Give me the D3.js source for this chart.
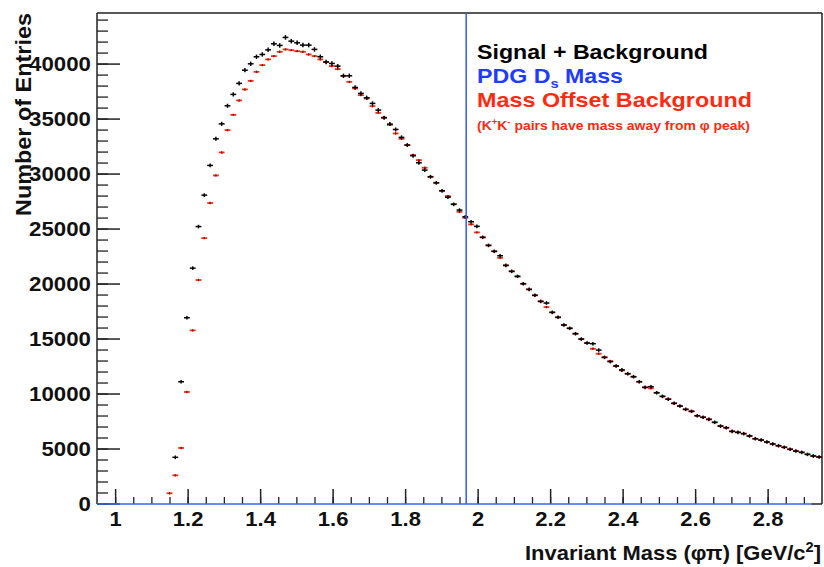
<!DOCTYPE html>
<html>
<head>
<meta charset="utf-8">
<script src="https://cdn.jsdelivr.net/npm/d3@7/dist/d3.min.js"></script>
<style>
  html, body { margin: 0; padding: 0; background: #fff; }
  svg { display: block; font-family: "Liberation Sans", Arial, Helvetica, sans-serif; }
</style>
</head>
<body>
<svg id="chart" width="824" height="567"></svg>
<script>
// ---- histogram definition (bins of 0.016 GeV starting at 1.142) ----
const binStart = 1.142;
const binWidth = 0.016;

// ---- Signal + Background (black), first bin centred at 1.150 ----
const signalBkg = [
  null, 4200, 11070, 16890, 21400, 25180, 28040, 30740, 33160, 34520,
  36160, 37200, 38200, 39400, 39980, 40620, 40830, 41250, 41800, 41650,
  42380, 42040, 41890, 41680, 41680, 41290, 40620, 40150, 40010, 39770,
  38890, 38890, 37830, 37290, 36890, 36380, 35770, 35070, 34500, 34010,
  33290, 32590, 31620, 30980, 30320, 29710, 29160, 28430, 27850, 27200,
  26680, 26070, 25620, 25200, 24200, 23470, 22930, 22530, 21650, 21110,
  20650, 19980, 19470, 18930, 18380, 18230, 17380, 16930, 16230, 15930,
  15440, 14950, 14590, 14530, 13950, 13290, 12900, 12500, 12150, 11800,
  11530, 11070, 10560, 10620, 10070, 9740, 9480, 9110, 8860, 8560,
  8380, 7980, 7840, 7650, 7380, 7040, 6890, 6560, 6470, 6350,
  6140, 5890, 5770, 5590, 5410, 5250, 5110, 4930, 4770, 4650,
  4470, 4320, 4230
];

// ---- Mass Offset Background (red) ----
const offsetBkg = [
  930, 2560, 5050, 10140, 15740, 20320, 24130, 27320, 29830, 31920,
  33950, 35340, 36650, 37650, 38430, 39250, 39860, 40380, 40680, 41070,
  41290, 41220, 41130, 41070, 40830, 40680, 40380, 40130, 39770, 39500,
  38860, 38340, 37740, 37130, 36830, 36130, 35520, 35100, 34430, 33650,
  33160, 32590, 31680, 31220, 30530, 29710, 29160, 28430, 27950, 27220,
  26520, 25980, 25380, 24650, 24200, 23470, 22930, 22340, 21650, 21110,
  20650, 19980, 19470, 18930, 18380, 17860, 17380, 16930, 16230, 15930,
  15440, 14950, 14590, 14070, 13620, 13290, 12950, 12500, 12100, 11800,
  11530, 11070, 10560, 10470, 10070, 9740, 9500, 9110, 8860, 8560,
  8380, 7980, 7840, 7650, 7380, 7040, 6890, 6560, 6470, 6350,
  6140, 5890, 5770, 5590, 5410, 5250, 5110, 4930, 4770, 4650,
  4470, 4320, 4230
];

const pdgDsMass = 1.9685;
const xDomain = [0.95, 2.95];
const yDomain = [0, 44600];
const xTickValues = [1, 1.2, 1.4, 1.6, 1.8, 2, 2.2, 2.4, 2.6, 2.8];
const yTickValues = [0, 5000, 10000, 15000, 20000, 25000, 30000, 35000, 40000];

(function draw() {
  const pL = 97, pR = 822, pT = 13, pB = 504;
  const svg = d3.select("#chart");

  const x = d3.scaleLinear().domain(xDomain).range([pL, pR]);
  const y = d3.scaleLinear().domain(yDomain).range([503.5, pT]);
  const axisFont = "Liberation Sans, Arial, sans-serif";

  function stretch(sel, factor) {
    sel.each(function () {
      const len = this.getComputedTextLength();
      this.setAttribute("textLength", (len * factor).toFixed(1));
      this.setAttribute("lengthAdjust", "spacingAndGlyphs");
    });
  }
  function fitWidth(sel, width) {
    sel.attr("textLength", width).attr("lengthAdjust", "spacingAndGlyphs");
  }

  // frame (top & right)
  svg.append("line").attr("x1", pL).attr("x2", pR).attr("y1", pT).attr("y2", pT)
    .attr("stroke", "#222").attr("stroke-width", 1.5);
  svg.append("line").attr("x1", pR).attr("x2", pR).attr("y1", pT).attr("y2", pB)
    .attr("stroke", "#222").attr("stroke-width", 1.5);

  // Y axis: minor ticks
  const yMinor = d3.range(0, 44001, 1000);
  const gyMinor = svg.append("g").attr("transform", `translate(${pL},0)`)
    .call(d3.axisLeft(y).tickValues(yMinor).tickSize(-11).tickFormat(""));
  gyMinor.select(".domain").remove();
  gyMinor.selectAll("line").attr("stroke", "#222").attr("stroke-width", 1.3);

  // Y axis: major ticks
  const gy = svg.append("g").attr("transform", `translate(${pL},0)`)
    .call(d3.axisLeft(y).tickValues(yTickValues).tickSizeInner(-23).tickSizeOuter(0)
      .tickPadding(6).tickFormat(d3.format("d")));
  gy.select(".domain").attr("stroke", "#222").attr("stroke-width", 1.5)
    .attr("d", `M0,${pB}V${pT}`);
  gy.selectAll("line").attr("stroke", "#222").attr("stroke-width", 1.5);
  gy.selectAll("text").attr("font-size", 21).attr("font-weight", "bold")
    .attr("fill", "#111").attr("font-family", axisFont);
  stretch(gy.selectAll("text"), 1.06);

  // X axis: minor ticks
  const xMinor = d3.range(1, 40).map(i => +(0.95 + i * 0.05).toFixed(2));
  const gxMinor = svg.append("g").attr("transform", `translate(0,${pB})`)
    .call(d3.axisBottom(x).tickValues(xMinor).tickSize(-7).tickFormat(""));
  gxMinor.select(".domain").remove();
  gxMinor.selectAll("line").attr("stroke", "#222").attr("stroke-width", 1.3);

  // X axis: major ticks
  const gx = svg.append("g").attr("transform", `translate(0,${pB})`)
    .call(d3.axisBottom(x).tickValues(xTickValues).tickSizeInner(-15).tickSizeOuter(0)
      .tickPadding(8).tickFormat(d3.format("")));
  gx.select(".domain").remove();
  gx.selectAll("line").attr("stroke", "#222").attr("stroke-width", 1.5);
  gx.selectAll("text").attr("font-size", 20).attr("font-weight", "bold")
    .attr("fill", "#111").attr("font-family", axisFont);
  stretch(gx.selectAll("text"), 1.1);

  // blue bottom axis line
  svg.append("line").attr("x1", pL).attr("x2", x(2.92)).attr("y1", pB).attr("y2", pB)
    .attr("stroke", "#3a62f5").attr("stroke-width", 1.6);
  svg.append("line").attr("x1", x(2.92)).attr("x2", pR).attr("y1", pB).attr("y2", pB)
    .attr("stroke", "#222").attr("stroke-width", 1.5);

  // data
  const centers = signalBkg.map((_, i) => binStart + binWidth * (i + 0.5));
  const blackData = signalBkg.map((v, i) => ({ m: centers[i], v })).filter(d => d.v != null);
  const redData = offsetBkg.map((v, i) => ({ m: centers[i], v }));
  const halfW = (x(binWidth) - x(0)) / 2;

  // red (background) markers
  const gRed = svg.append("g");
  gRed.selectAll("line.h").data(redData).join("line").attr("class", "h")
    .attr("x1", d => x(d.m) - halfW).attr("x2", d => x(d.m) + halfW)
    .attr("y1", d => y(d.v)).attr("y2", d => y(d.v))
    .attr("stroke", "#ff2a10").attr("stroke-width", 1.8);
  gRed.selectAll("line.v").data(redData).join("line").attr("class", "v")
    .attr("x1", d => x(d.m)).attr("x2", d => x(d.m))
    .attr("y1", d => y(d.v) - 1.2).attr("y2", d => y(d.v) + 1.2)
    .attr("stroke", "#7a1000").attr("stroke-width", 1.2);

  // black (signal + background) crosses
  const gBlack = svg.append("g");
  gBlack.selectAll("line.h").data(blackData).join("line").attr("class", "h")
    .attr("x1", d => x(d.m) - halfW).attr("x2", d => x(d.m) + halfW)
    .attr("y1", d => y(d.v)).attr("y2", d => y(d.v))
    .attr("stroke", "#000").attr("stroke-width", 1.5);
  gBlack.selectAll("line.v").data(blackData).join("line").attr("class", "v")
    .attr("x1", d => x(d.m)).attr("x2", d => x(d.m))
    .attr("y1", d => Math.min(y(d.v + Math.sqrt(d.v)), y(d.v) - 1.8))
    .attr("y2", d => Math.max(y(d.v - Math.sqrt(d.v)), y(d.v) + 1.8))
    .attr("stroke", "#000").attr("stroke-width", 1.5);

  // PDG Ds mass vertical line
  svg.append("line").attr("x1", x(pdgDsMass)).attr("x2", x(pdgDsMass))
    .attr("y1", pT).attr("y2", pB)
    .attr("stroke", "#3a62f5").attr("stroke-width", 1.6);

  // legend texts
  const lg = svg.append("g").attr("font-weight", "bold");
  const t1 = lg.append("text").attr("x", 477).attr("y", 59).attr("font-size", 20.5)
    .attr("fill", "#000").text("Signal + Background");
  fitWidth(t1, 231);
  const t2 = lg.append("text").attr("x", 477).attr("y", 83).attr("font-size", 20.5).attr("fill", "#1e3cff");
  t2.append("tspan").text("PDG D");
  t2.append("tspan").attr("font-size", 13).attr("dy", 4.5).text("s");
  t2.append("tspan").attr("dy", -4.5).text(" Mass");
  fitWidth(t2, 146);
  const t3 = lg.append("text").attr("x", 477).attr("y", 107).attr("font-size", 20.5)
    .attr("fill", "#ff2a10").text("Mass Offset Background");
  fitWidth(t3, 275);
  const t4 = lg.append("text").attr("x", 477).attr("y", 130).attr("font-size", 12.5).attr("fill", "#ff2a10");
  t4.append("tspan").text("(K");
  t4.append("tspan").attr("font-size", 8.5).attr("dy", -5).text("+");
  t4.append("tspan").attr("dy", 5).text("K");
  t4.append("tspan").attr("font-size", 8.5).attr("dy", -5).text("-");
  t4.append("tspan").attr("dy", 5).text(" pairs have mass away from \u03c6 peak)");
  fitWidth(t4, 273);

  // axis titles
  const yt = svg.append("text").attr("transform", `translate(31,${pT}) rotate(-90)`)
    .attr("text-anchor", "end").attr("font-size", 22).attr("font-weight", "bold")
    .attr("fill", "#111").text("Number of Entries");
  fitWidth(yt, 203);

  const xt = svg.append("text").attr("x", 821).attr("y", 560).attr("text-anchor", "end")
    .attr("font-size", 21).attr("font-weight", "bold").attr("fill", "#111");
  xt.append("tspan").text("Invariant Mass (\u03c6\u03c0) [GeV/c");
  xt.append("tspan").attr("font-size", 14).attr("dy", -8).text("2");
  xt.append("tspan").attr("dy", 8).text("]");
  fitWidth(xt, 296);
})();
</script>
</body>
</html>
